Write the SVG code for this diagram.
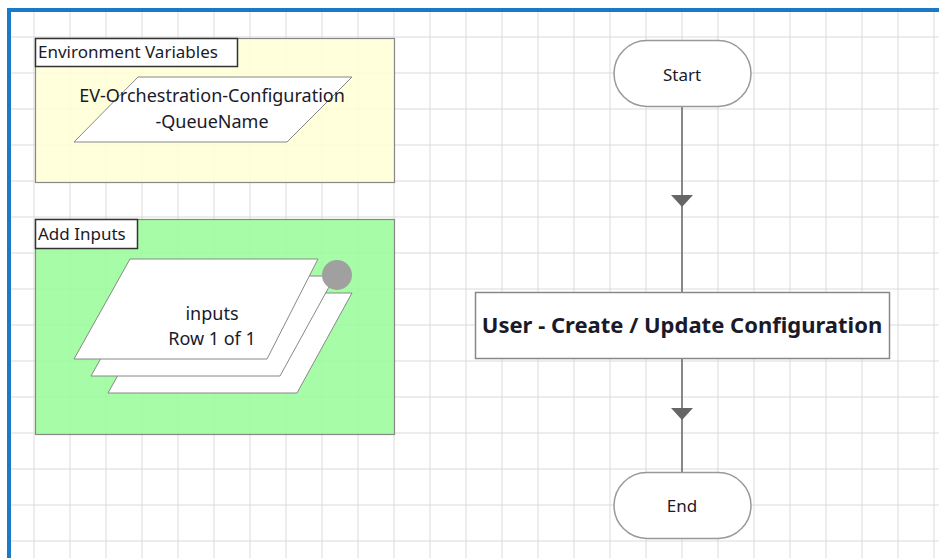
<svg xmlns="http://www.w3.org/2000/svg" width="939" height="558" viewBox="0 0 939 558">
<defs>
<pattern id="grid" x="-1.5" y="1.5" width="36" height="36" patternUnits="userSpaceOnUse">
<path d="M36 0 V36 M0 36 H36" fill="none" stroke="#dadada" stroke-width="2"/>
</pattern>
<style>
.t{font-family:"Noto Sans","Open Sans","Liberation Sans",sans-serif;fill:#1a1a2a;}
.lbl{font-size:17px;}
.nt{font-size:18px;text-anchor:middle;}
.term{fill:#fff;stroke:#999;stroke-width:1.5;}
.para{fill:#fff;stroke:#888;stroke-width:1;}
.tag{fill:#fff;stroke:#333;stroke-width:1.5;}
.conn{stroke:#666;stroke-width:1.5;fill:none;}
.arr{fill:#666;}
</style>
</defs>
<rect width="939" height="558" fill="#fff"/>
<rect x="10" y="10" width="929" height="548" fill="url(#grid)"/>
<g id="env-vars">
<rect x="35.5" y="38.5" width="359" height="144" fill="#ffffd6" fill-opacity="0.85" stroke="#888" stroke-width="1.2"/>
<rect x="35.5" y="38.5" width="202" height="28" class="tag"/>
<text x="38" y="58" class="t lbl">Environment Variables</text>
<g id="ev-queue">
<polygon points="138,77 352,77 287,142 74,142" class="para"/>
<text x="212" y="102" class="t nt">EV-Orchestration-Configuration</text>
<text x="212" y="128" class="t nt">-QueueName</text>
</g>
</g>
<g id="add-inputs">
<rect x="35.5" y="219.5" width="359" height="215" fill="#98fb98" fill-opacity="0.85" stroke="#888" stroke-width="1.2"/>
<rect x="35.5" y="219.5" width="102" height="29" class="tag"/>
<text x="38" y="240" class="t lbl">Add Inputs</text>
<g id="inputs">
<polygon points="164,293 352,293 297,393 108,393" class="para"/>
<polygon points="147,276 335,276 280,376 91,376" class="para"/>
<circle cx="337" cy="275" r="15" fill="#a0a0a0"/>
<polygon points="130,259 318,259 267,359 74,359" class="para"/>
<text x="212" y="320" class="t nt">inputs</text>
<text x="212" y="345" class="t nt">Row 1 of 1</text>
</g>
</g>
<g id="connectors">
<line x1="682" y1="107" x2="682" y2="292" class="conn"/>
<path d="M671 195 H693 L682 207 Z" class="arr"/>
<line x1="682" y1="359" x2="682" y2="472" class="conn"/>
<path d="M671 408 H693 L682 420 Z" class="arr"/>
</g>
<g id="start">
<rect x="614" y="40.5" width="137" height="66" rx="33" class="term"/>
<text x="682" y="81" class="t nt" style="font-size:17px">Start</text>
</g>
<g id="process">
<rect x="475.5" y="292.5" width="414" height="66" fill="#fff" stroke="#888" stroke-width="1.5"/>
<text x="682" y="333" class="t" style="font-size:22px;font-weight:bold;text-anchor:middle">User - Create / Update Configuration</text>
</g>
<g id="end">
<rect x="614" y="472.5" width="137" height="66" rx="33" class="term"/>
<text x="682" y="512" class="t nt" style="font-size:17px">End</text>
</g>
<path d="M9 558 V10 H939" fill="none" stroke="#1a7ac8" stroke-width="4"/>
</svg>
